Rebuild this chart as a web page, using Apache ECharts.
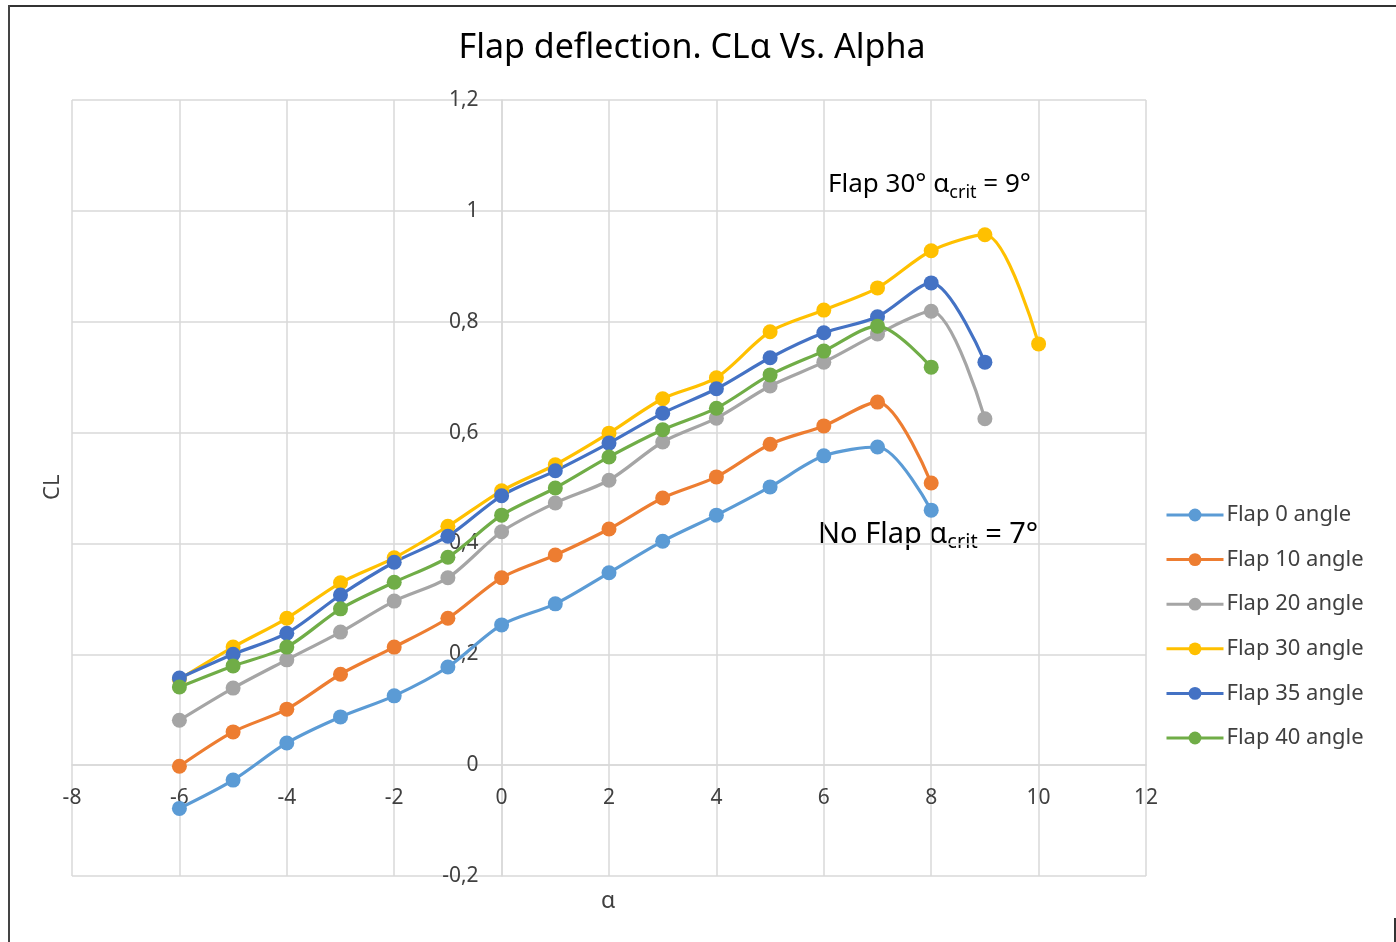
<!DOCTYPE html>
<html>
<head>
<meta charset="utf-8">
<script src="https://cdn.jsdelivr.net/npm/echarts@6/dist/echarts.min.js"></script>
<style>html,body{margin:0;padding:0;background:#fff;}#c{width:1396px;height:942px;}</style>
</head>
<body>
<div id="c"></div>
<script>
const alpha = [-6,-5,-4,-3,-2,-1,0,1,2,3,4,5,6,7,8,9,10];
const seriesNames = ['Flap 0 angle','Flap 10 angle','Flap 20 angle','Flap 30 angle','Flap 35 angle','Flap 40 angle'];
const flap0  = [-0.078,-0.027,0.040,0.087,0.125,0.177,0.253,0.291,0.347,0.404,0.451,0.502,0.558,0.574,0.460];
const flap10 = [-0.002,0.060,0.101,0.164,0.213,0.265,0.338,0.379,0.426,0.482,0.520,0.579,0.612,0.655,0.509];
const flap20 = [0.081,0.139,0.190,0.240,0.296,0.338,0.421,0.473,0.514,0.583,0.626,0.684,0.727,0.778,0.819,0.625];
const flap30 = [0.155,0.213,0.265,0.329,0.374,0.431,0.495,0.542,0.599,0.661,0.699,0.782,0.821,0.861,0.928,0.957,0.760];
const flap35 = [0.157,0.200,0.238,0.307,0.366,0.413,0.486,0.531,0.581,0.635,0.679,0.735,0.780,0.809,0.870,0.727];
const flap40 = [0.141,0.179,0.213,0.282,0.330,0.375,0.451,0.500,0.556,0.605,0.644,0.704,0.747,0.792,0.718];
const colors = ['#5B9BD5','#ED7D31','#A5A5A5','#FFC000','#4472C4','#70AD47'];
const allSeries = [flap0, flap10, flap20, flap30, flap35, flap40];

const FONT = 'Noto Sans';
const X_MIN = -8, X_MAX = 12, Y_MIN = -0.2, Y_MAX = 1.2;
const G = {left: 72, right: 250, top: 100, bottom: 66, W: 1396, H: 942};
const plotW = G.W - G.left - G.right, plotH = G.H - G.top - G.bottom;
// place each axis where the other axis is zero (Excel style crossing)
const xAxisOffset = -plotH * (0 - Y_MIN) / (Y_MAX - Y_MIN);
const yAxisOffset = -plotW * (0 - X_MIN) / (X_MAX - X_MIN);

const chart = echarts.init(document.getElementById('c'), null, {renderer: 'canvas'});
const fmt = v => Number(v.toFixed(1)).toString().replace('.', ',');

chart.setOption({
  backgroundColor: '#fff',
  animation: false,
  color: colors,
  title: {
    text: 'Flap deflection. CLα Vs. Alpha',
    left: 687, top: 26, textAlign: 'center',
    textStyle: {fontFamily: FONT, fontSize: 34, fontWeight: 'normal', color: '#000'}
  },
  grid: {left: G.left, right: G.right, top: G.top, bottom: G.bottom, containLabel: false},
  xAxis: {
    type: 'value', min: X_MIN, max: X_MAX, interval: 2,
    position: 'bottom', offset: xAxisOffset,
    axisLine: {onZero: false, lineStyle: {color: '#d9d9d9', width: 1.5}},
    axisTick: {show: false},
    axisLabel: {margin: 22, fontFamily: FONT, fontSize: 21, color: '#404040', formatter: fmt},
    splitLine: {show: true, lineStyle: {color: '#d9d9d9', width: 1.5}}
  },
  yAxis: {
    type: 'value', min: Y_MIN, max: Y_MAX, interval: 0.2,
    position: 'left', offset: yAxisOffset,
    axisLine: {onZero: false, lineStyle: {color: '#d9d9d9', width: 1.5}},
    axisTick: {show: false},
    axisLabel: {margin: 23, fontFamily: FONT, fontSize: 21, color: '#404040', formatter: fmt},
    splitLine: {show: true, lineStyle: {color: '#d9d9d9', width: 1.5}}
  },
  legend: {
    orient: 'vertical', left: 1160, top: 498,
    itemWidth: 57, itemHeight: 16, itemGap: 20.6,
    lineStyle: {width: 3},
    textStyle: {fontFamily: FONT, fontSize: 22, color: '#404040', lineHeight: 24, padding: [0,0,0,-2]},
    data: seriesNames
  },
  series: allSeries.map((d, i) => ({
    name: seriesNames[i],
    type: 'line',
    smooth: 0.3,
    symbol: 'circle',
    symbolSize: 15,
    lineStyle: {width: 3.2, color: colors[i]},
    itemStyle: {color: colors[i]},
    data: d.map((v, j) => [alpha[j], v])
  })),
  graphic: [
    {type: 'text', left: 601, top: 890, style: {text: 'α', font: '23px "Noto Sans"', fill: '#404040'}},
    {type: 'text', x: 42, y: 500, rotation: Math.PI/2, style: {text: 'CL', font: '22px "Noto Sans"', fill: '#404040'}},
    {type: 'text', left: 828, top: 172, style: {
      rich: {
        a: {fontFamily: FONT, fontSize: 26, fill: '#000'},
        s: {fontFamily: FONT, fontSize: 18, fill: '#000', padding: [15,0,0,0]}
      },
      text: '{a|Flap 30° α}{s|crit}{a| = 9°}'
    }},
    {type: 'text', left: 818, top: 520, style: {
      rich: {
        a: {fontFamily: FONT, fontSize: 29, fill: '#000'},
        s: {fontFamily: FONT, fontSize: 20, fill: '#000', padding: [16,0,0,0]}
      },
      text: '{a|No Flap α}{s|crit}{a| = 7°}'
    }},
    {type: 'line', shape: {x1: 8, y1: 6, x2: 1396, y2: 6}, style: {stroke: '#333', lineWidth: 2}},
    {type: 'line', shape: {x1: 9, y1: 5, x2: 9, y2: 942}, style: {stroke: '#444', lineWidth: 2}},
    {type: 'line', shape: {x1: 1395, y1: 918, x2: 1395, y2: 942}, style: {stroke: '#333', lineWidth: 2}}
  ]
});
</script>
</body>
</html>
